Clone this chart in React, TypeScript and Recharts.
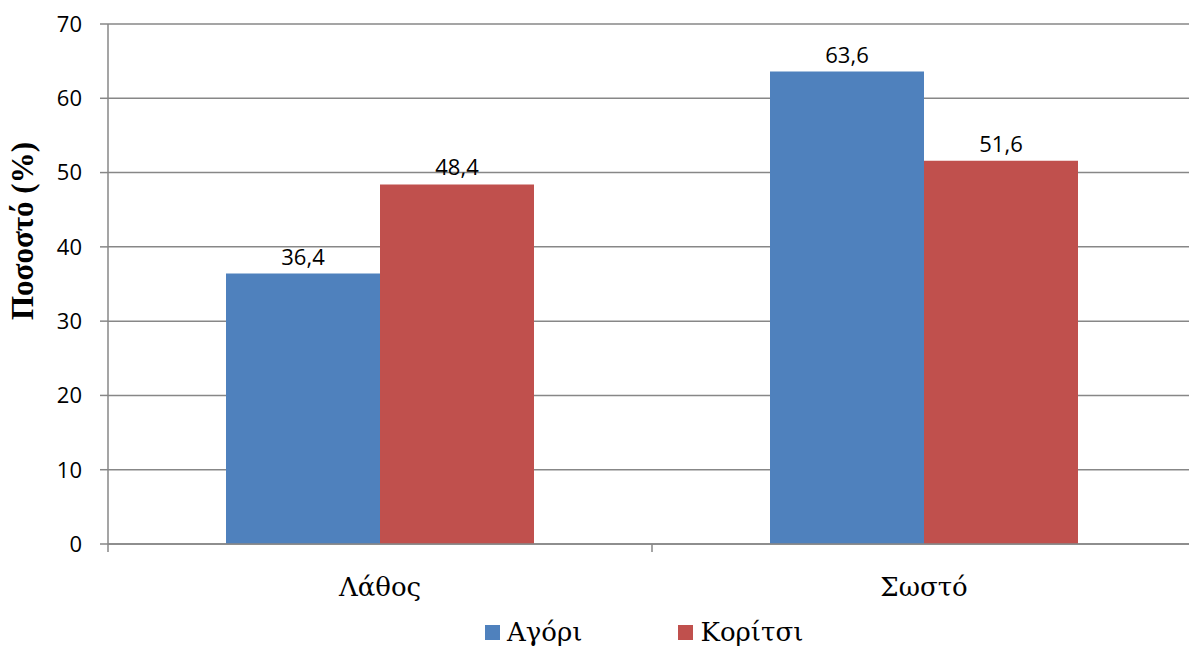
import { Bar, BarChart, CartesianGrid, LabelList, ReferenceLine, XAxis, YAxis } from 'recharts';

const categories = ['Λάθος', 'Σωστό'];
const boys = [36.4, 63.6];
const girls = [48.4, 51.6];
const yTicks = [0, 10, 20, 30, 40, 50, 60, 70];

const series = [
  { key: 'boys', name: 'Αγόρι', color: '#4F81BD', values: boys },
  { key: 'girls', name: 'Κορίτσι', color: '#C0504D', values: girls },
];

const data = categories.map((cat, i) => {
  const row: Record<string, string | number> = { cat };
  series.forEach((s) => {
    row[s.key] = s.values[i];
  });
  return row;
});

const gridColor = '#878787';
const sans = 'Open Sans';
const serif = 'Liberation Serif';
const greekSerif = 'DejaVu Serif';

// small tick marks below the x axis at the edges of each category band
const tickDepth = -1.08;

const formatValue = (v: unknown) => String(v).replace('.', ',');

export default function App() {
  return (
    <div
      style={{
        position: 'absolute',
        left: 0,
        top: 0,
        width: 1189,
        height: 647,
        overflow: 'hidden',
        background: '#fff',
      }}
    >
      <BarChart
        width={1200}
        height={647}
        data={data}
        margin={{ top: 24, right: 4, left: 0, bottom: 0 }}
        barCategoryGap={118}
        barGap={0}
      >
        <CartesianGrid vertical={false} stroke={gridColor} strokeWidth={1.5} />
        <XAxis
          dataKey="cat"
          height={103}
          tickLine={false}
          axisLine={{ stroke: gridColor, strokeWidth: 1.5 }}
          tickMargin={28}
          tick={{ fontSize: 26, fill: '#000', fontFamily: greekSerif }}
        />
        <YAxis
          width={108}
          domain={[0, 70]}
          ticks={yTicks}
          interval={0}
          tickSize={8}
          tickMargin={18}
          axisLine={{ stroke: gridColor, strokeWidth: 1.5 }}
          tickLine={{ stroke: gridColor, strokeWidth: 1.5 }}
          tick={{ fontSize: 22, fill: '#000', fontFamily: sans }}
          label={{
            value: 'Ποσοστό (%)',
            angle: -90,
            position: 'center',
            dx: -32,
            dy: -53,
            style: { fontSize: 31, fontWeight: 'bold', fill: '#000', fontFamily: serif },
          }}
        />
        {categories.map((cat) => (
          <ReferenceLine
            key={`start-${cat}`}
            segment={[{ x: cat, y: 0 }, { x: cat, y: tickDepth }]}
            position="start"
            ifOverflow="visible"
            stroke={gridColor}
            strokeWidth={1.5}
          />
        ))}
        <ReferenceLine
          segment={[
            { x: categories[categories.length - 1], y: 0 },
            { x: categories[categories.length - 1], y: tickDepth },
          ]}
          position="end"
          ifOverflow="visible"
          stroke={gridColor}
          strokeWidth={1.5}
        />
        {series.map((s) => (
          <Bar key={s.key} dataKey={s.key} name={s.name} fill={s.color} isAnimationActive={false}>
            <LabelList
              dataKey={s.key}
              position="top"
              offset={9}
              formatter={formatValue}
              style={{ fontSize: 22, fill: '#000', fontFamily: sans }}
            />
          </Bar>
        ))}
      </BarChart>
      <div
        style={{
          position: 'absolute',
          left: 485,
          top: 613,
          display: 'flex',
          alignItems: 'center',
          gap: 96,
          fontFamily: greekSerif,
          fontSize: 26,
          color: '#000',
          lineHeight: '38px',
        }}
      >
        {series.map((s) => (
          <div key={s.key} style={{ display: 'flex', alignItems: 'center' }}>
            <span style={{ width: 15, height: 15, background: s.color, marginRight: 7 }} />
            <span>{s.name}</span>
          </div>
        ))}
      </div>
    </div>
  );
}
